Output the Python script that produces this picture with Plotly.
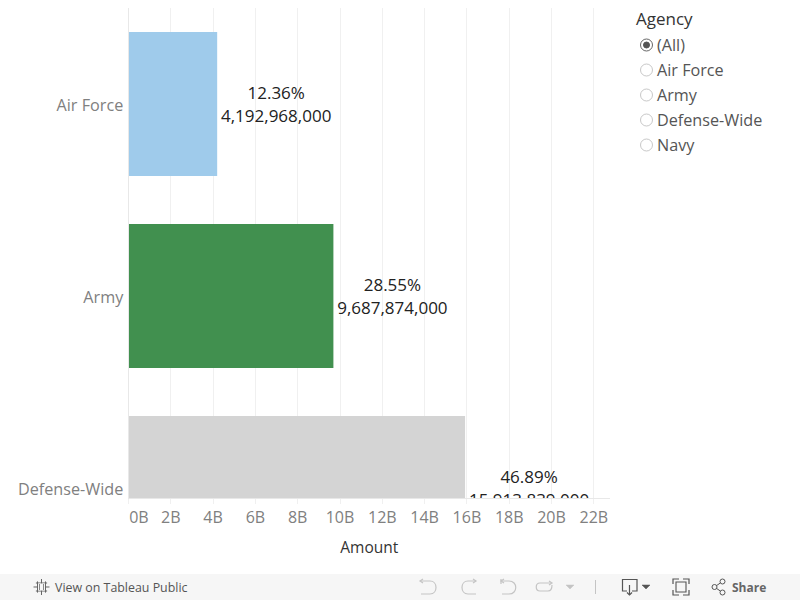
import plotly.graph_objects as go

agencies = ["Air Force", "Army", "Defense-Wide"]
amounts = [4192968000, 9687874000, 15913839000]
shares = ["12.36%", "28.55%", "46.89%"]
amount_labels = ["4,192,968,000", "9,687,874,000", "15,913,839,000"]
bar_colors = ["#9fcbeb", "#41904f", "#d4d4d4"]
tick_values = [i * 1e9 for i in range(0, 24, 2)]
tick_labels = ["\u00a0\u00a0\u00a0\u00a0\u00a00B"] + [f"{i}B" for i in range(2, 24, 2)]
filter_options = ["(All)", "Air Force", "Army", "Defense-Wide", "Navy"]

FONT = "Open Sans"
W, H = 800, 600
L, R, T, B = 128.5, 610, 8, 498
PX_PER_UNIT = 21.15 / 1e9
PX_PER_BAND = 192.0


def fx(x):
    return x / W


def fy(y):
    return 1 - y / H


def path(d):
    out = []
    for tok in d:
        if isinstance(tok, str):
            out.append(tok)
        else:
            out.append(f"{fx(tok[0]):.5f},{fy(tok[1]):.5f}")
    return " ".join(out)


fig = go.Figure()
y_pos = list(range(len(agencies)))
fig.add_trace(go.Bar(x=amounts, y=y_pos, orientation="h", width=0.75,
                     marker=dict(color=bar_colors, line_width=0), hoverinfo="skip"))
# label blocks sit just to the right of each bar, two lines centred on the band
half_widths = [55, 55, 60]
label_x = [a + (4 + hw) / PX_PER_UNIT for a, hw in zip(amounts, half_widths)]
fig.add_trace(go.Scatter(x=label_x, y=[p - 9 / PX_PER_BAND for p in y_pos], mode="text", text=shares,
                         textposition="middle center", cliponaxis=True, hoverinfo="skip",
                         textfont=dict(family=FONT, size=17, color="#222222")))
fig.add_trace(go.Scatter(x=label_x, y=[p + 14 / PX_PER_BAND for p in y_pos], mode="text", text=amount_labels,
                         textposition="middle center", cliponaxis=True, hoverinfo="skip",
                         textfont=dict(family=FONT, size=17, color="#222222")))

shapes = []
annos = []


def label(x, y, text, size, color, anchor="left", family=FONT):
    annos.append(dict(xref="paper", yref="paper", x=fx(x), y=fy(y), text=text, showarrow=False,
                      xanchor=anchor, yanchor="middle", xshift=0, borderpad=0, borderwidth=0,
                      font=dict(family=family, size=size, color=color)))


def circle(cx, cy, r, line, fill="rgba(0,0,0,0)", w=1):
    shapes.append(dict(type="circle", xref="paper", yref="paper", x0=fx(cx - r), x1=fx(cx + r),
                       y0=fy(cy + r), y1=fy(cy - r), line=dict(color=line, width=w), fillcolor=fill))


def stroke(d, color, w=1.2, fill="rgba(0,0,0,0)"):
    shapes.append(dict(type="path", xref="paper", yref="paper", path=path(d),
                       line=dict(color=color, width=w), fillcolor=fill))


# footer strip
shapes.append(dict(type="rect", xref="paper", yref="paper", x0=0, x1=1, y0=fy(600), y1=fy(574),
                   fillcolor="#f6f6f6", line_width=0))

# filter panel
label(635.5, 19, "Agency", 17, "#333333")
for i, opt in enumerate(filter_options):
    yy = 45 + 25 * i
    circle(646.5, yy, 6, "#666666" if i == 0 else "#c8c8c8")
    if i == 0:
        circle(646.5, yy, 3, "#555555", "#555555")
    label(656.5, yy, opt, 16.2, "#555555")

label(55, 587, "View on Tableau Public", 12.4, "#555555")
label(732, 587, "<b>Share</b>", 12, "#666666")

# tableau mark
for dx in (-4, 0, 4):
    stroke(["M", (41.5 + dx, 579 + abs(dx) * .6), "L", (41.5 + dx, 595 - abs(dx) * .6)], "#666666", 1)
for dy in (-4, 0, 4):
    stroke(["M", (33.5 + abs(dy) * .6, 587 + dy), "L", (49.5 - abs(dy) * .6, 587 + dy)], "#666666", 1)
shapes.append(dict(type="rect", xref="paper", yref="paper", x0=fx(38), x1=fx(45), y0=fy(590.5), y1=fy(583.5),
                   fillcolor="#f6f6f6", line_width=0))
for dx in (-2, 2):
    stroke(["M", (41.5 + dx, 584), "L", (41.5 + dx, 590)], "#888888", 1)

# undo / redo / revert / refresh (disabled, light)
ic = "#c4c4c4"
stroke(["M", (421, 581), "L", (430, 581), "C", (438, 581), (438, 594), (430, 594), "L", (421, 594)], ic)
stroke(["M", (423, 579), "L", (420, 581), "L", (423, 583)], ic)
stroke(["M", (476, 581), "L", (468, 581), "C", (460, 581), (460, 594), (468, 594), "L", (476, 594)], ic)
stroke(["M", (473, 579), "L", (476, 581), "L", (473, 583)], ic)
stroke(["M", (502, 581), "L", (509, 581), "C", (518, 581), (518, 594), (509, 594), "L", (502, 594)], ic)
stroke(["M", (501, 579), "L", (501, 584)], ic)
stroke(["M", (504, 579), "L", (501, 581), "L", (504, 583)], ic)
stroke(["M", (551, 583), "L", (540, 583), "C", (535, 583), (535, 591), (540, 591), "L", (548, 591),
        "C", (552, 591), (552, 587), (552, 585)], ic)
stroke(["M", (549, 581), "L", (552, 583), "L", (549, 585)], ic)
stroke(["M", (566, 585), "L", (574, 585), "L", (570, 589), "Z"], ic, 0.5, ic)
stroke(["M", (595.5, 580), "L", (595.5, 594)], "#c4c4c4", 1)

# download
dk = "#555555"
stroke(["M", (627, 591), "L", (622.5, 591), "L", (622.5, 579.5), "L", (637, 579.5), "L", (637, 591), "L", (632, 591)], dk)
stroke(["M", (629.5, 585), "L", (629.5, 595)], dk)
stroke(["M", (627, 592.5), "L", (629.5, 595), "L", (632, 592.5)], dk)
stroke(["M", (642, 585), "L", (650, 585), "L", (646, 589), "Z"], dk, 0.5, dk)

# fullscreen
stroke(["M", (673, 584), "L", (673, 579), "L", (679, 579)], dk)
stroke(["M", (683, 579), "L", (689, 579), "L", (689, 584)], dk)
stroke(["M", (689, 590), "L", (689, 595), "L", (683, 595)], dk)
stroke(["M", (679, 595), "L", (673, 595), "L", (673, 590)], dk)
shapes.append(dict(type="rect", xref="paper", yref="paper", x0=fx(676), x1=fx(686), y0=fy(592), y1=fy(582),
                   line=dict(color=dk, width=1.1)))

# share
circle(714.5, 587, 2.5, dk)
circle(722.5, 581.5, 2.5, dk)
circle(722.5, 592.5, 2.5, dk)
stroke(["M", (716.7, 585.5), "L", (720.3, 583)], dk, 1)
stroke(["M", (716.7, 588.5), "L", (720.3, 591)], dk, 1)

fig.update_layout(
    width=W, height=H, margin=dict(l=0, r=0, t=0, b=0, pad=0, autoexpand=False), autosize=False,
    paper_bgcolor="white", plot_bgcolor="white", showlegend=False,
    shapes=shapes, annotations=annos,
    font=dict(family=FONT),
    xaxis=dict(automargin=False, domain=[L / W, R / W], range=[0, (R - L) / PX_PER_UNIT], tickvals=tick_values,
               ticktext=tick_labels,
               showgrid=True, gridcolor="#f0f0f0", gridwidth=1, zeroline=False, showline=True, linecolor="#e8e8e8",
               ticks="outside", ticklen=5, tickcolor="#f0f0f0",
               tickfont=dict(family=FONT, size=16, color="#808080"),
               title=dict(text="Amount", standoff=14, font=dict(family=FONT, size=15.5, color="#333333"))),
    yaxis=dict(automargin=False, domain=[1 - B / H, 1 - T / H],
               range=[(B - 104) / PX_PER_BAND, (T - 104) / PX_PER_BAND],
               tickvals=[p + 1.5 / PX_PER_BAND for p in y_pos], ticktext=agencies, showgrid=False, zeroline=False,
               showline=True, linecolor="#e8e8e8", ticks="",
               tickfont=dict(family=FONT, size=16.2, color="#808080"), ticklabelstandoff=1),
)
fig.write_html("out.html", config=dict(displayModeBar=False),
               post_script="document.body.style.margin='0';document.body.style.overflow='hidden';")
